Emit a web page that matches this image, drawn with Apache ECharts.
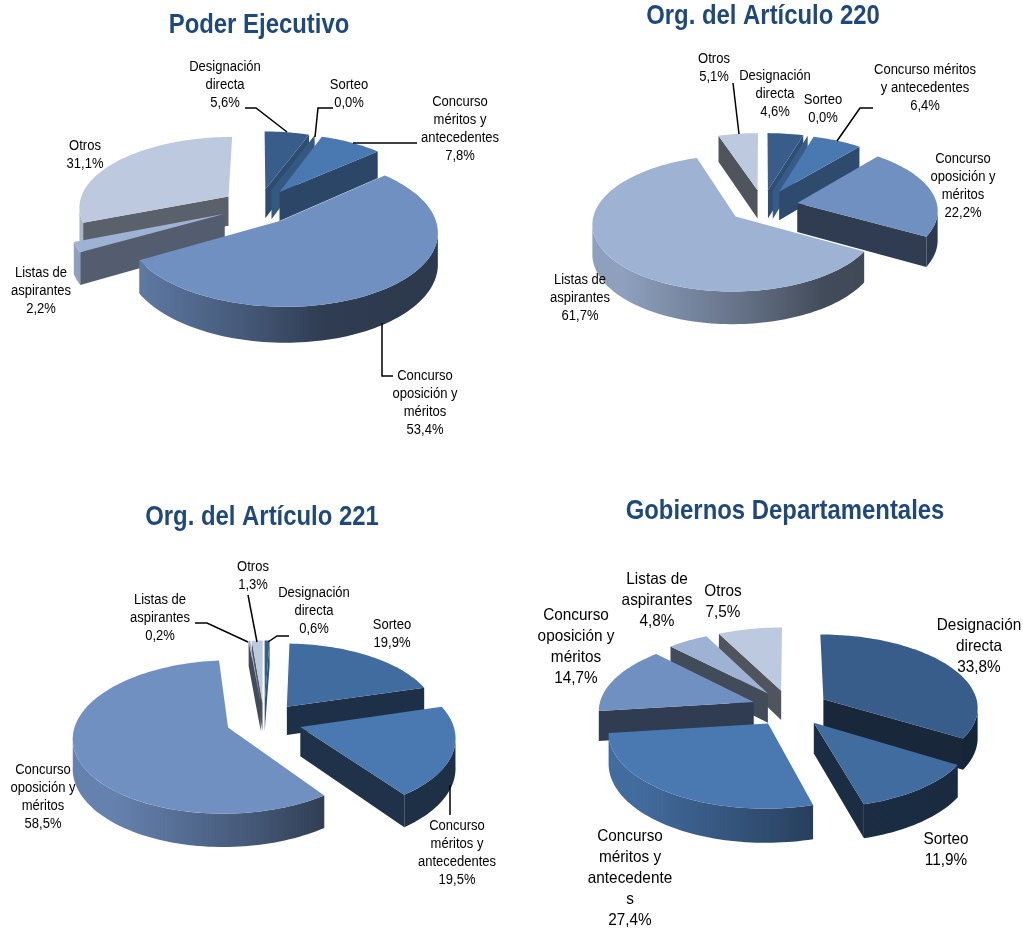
<!DOCTYPE html>
<html><head><meta charset="utf-8">
<style>html,body{margin:0;padding:0;background:#fff}#c{width:1023px;height:928px}</style>
<script src="https://cdn.jsdelivr.net/npm/echarts@6/dist/echarts.min.js"></script>
</head><body><div id="c"></div>
<script>
const categories = ['Designación directa','Sorteo','Concurso méritos y antecedentes','Concurso oposición y méritos','Listas de aspirantes','Otros'];
const poderEjecutivo = [5.6,0.0,7.8,53.4,2.2,31.1];
const articulo220 = [4.6,0.0,6.4,22.2,61.7,5.1];
const articulo221 = [0.6,19.9,19.5,58.5,0.2,1.3];
const gobiernosDep = [33.8,11.9,27.4,14.7,4.8,7.5];
const chartTitles = ['Poder Ejecutivo','Org. del Artículo 220','Org. del Artículo 221','Gobiernos Departamentales'];
const allValues = [poderEjecutivo,articulo220,articulo221,gobiernosDep];

// styles & layout
const palette = ['#385D8A','#416C9F','#4A78B0','#7090C2','#9EB2D3','#BCC9DE'];
const pieGeom = [
  {cx:259,cy:206,rx:150,ry:70,p:.137,d:30,e:.25},
  {cx:763,cy:206,rx:140,ry:65.5,p:.097,d:29,e:.25},
  {cx:264,cy:721,rx:152,ry:74,p:.12,d:29,e:.25},
  {cx:790,cy:708,rx:155,ry:73,p:.102,d:30,e:.25}
];
const titlePos = [[259,26],[763,17],[262,518],[785,512]];
const FONT = '"Liberation Sans",Arial,sans-serif';
const labelFont = [14,14,14,16.5];
const labelLH = [18,18,18,21];
// per-chart label: wrapped name lines, centre x, centre y
const labelLayout = [
 [[['Designación','directa'],225,85],[['Sorteo'],349,94],[['Concurso','méritos y','antecedentes'],460,129],[['Concurso','oposición y','méritos'],425,403],[['Listas de','aspirantes'],41,291],[['Otros'],85,155]],
 [[['Designación','directa'],775,94],[['Sorteo'],823,109],[['Concurso méritos','y antecedentes'],925,88],[['Concurso','oposición y','méritos'],963,186],[['Listas de','aspirantes'],580,298],[['Otros'],714,68]],
 [[['Designación','directa'],314,611],[['Sorteo'],392,634],[['Concurso','méritos y','antecedentes'],457,853],[['Concurso','oposición y','méritos'],43,797],[['Listas de','aspirantes'],160,618],[['Otros'],253,576]],
 [[['Designación','directa'],979,646],[['Sorteo'],946,850],[['Concurso','méritos y','antecedente','s'],630,878],[['Concurso','oposición y','méritos'],576,647],[['Listas de','aspirantes'],657,600],[['Otros'],723,602]]
];
const leaderLines = [
 [[245,108],[256,108],[287,132]],[[333,108],[318,108],[315,137]],[[417,143],[353,143]],[[393,376],[382,376],[382,323]],
 [[733,83],[739,134]],[[873,108],[860,108],[837,141]],
 [[195,623],[207,623],[248,642]],[[248,595],[257,642]],[[289,636],[277,636],[268,642]],[[450,785],[450,815]]
];

function shade(hex,f){
  const n=parseInt(hex.slice(1),16);
  const c=[(n>>16)&255,(n>>8)&255,n&255].map(x=>Math.round(x*f));
  return 'rgb('+c.join(',')+')';
}
function wallFactor(u){ return u>.8 ? .62+(u-.8)*1.4 : .42+Math.max(0,u-.2)*.35; }

function sliceGeometry(vals){
  const total=vals.reduce((a,b)=>a+b,0); let acc=0;
  return vals.map(v=>{const a0=acc/total*2*Math.PI; acc+=v; const a1=acc/total*2*Math.PI; return {a0,a1,mid:(a0+a1)/2};});
}
function makeRender(ci){
  const g=pieGeom[ci], vals=allValues[ci], slices=sliceGeometry(vals);
  const order=slices.map((s,i)=>[Math.cos(s.mid),i]).sort((a,b)=>b[0]-a[0]);
  const rank={}; order.forEach((o,k)=>rank[o[1]]=k);
  const P=(u,v,z)=>{const s=1/(1+g.p*v);return [g.cx+g.rx*u*s,g.cy-g.ry*v*s+z*s];};
  return function(params,api){
    const i=params.dataIndex, val=api.value(0), sl=slices[i];
    const ox=g.e*Math.sin(sl.mid), oy=g.e*Math.cos(sl.mid);
    const R=t=>[ox+Math.sin(t),oy+Math.cos(t)];
    const col=palette[i], base=rank[i]*10+10, kids=[];
    const wall=(t,nrm)=>{
      const nu=Math.sin(nrm), nv=Math.cos(nrm);
      if(nv>=0.0) return;
      const r=R(t);
      kids.push({type:'polygon',z2:base+1,shape:{points:[P(ox,oy,0),P(r[0],r[1],0),P(r[0],r[1],g.d),P(ox,oy,g.d)]},
        style:{fill:shade(col,wallFactor(nu))}});
    };
    wall(sl.a0,sl.a0-Math.PI/2);
    wall(sl.a1,sl.a1+Math.PI/2);
    // curved outer wall
    const front=Math.PI/2+Math.asin(g.p);
    const b0=Math.max(sl.a0,front), b1=Math.min(sl.a1,2*Math.PI-front);
    if(b1>b0){
      const top=[],bot=[],n=Math.ceil((b1-b0)/0.03);
      for(let k=0;k<=n;k++){const t=b0+(b1-b0)*k/n,r=R(t);top.push(P(r[0],r[1],0));bot.unshift(P(r[0],r[1],g.d));}
      kids.push({type:'polygon',z2:base+2,shape:{points:top.concat(bot)},style:{fill:{type:'linear',x:g.cx-g.rx,y:0,x2:g.cx+g.rx,y2:0,global:true,
        colorStops:[{offset:0,color:shade(col,.9)},{offset:.45,color:shade(col,.62)},{offset:.72,color:shade(col,.42)},{offset:1,color:shade(col,.4)}]}}});
    }
    // top face
    if(val>0){
      const pts=[P(ox,oy,0)],n=Math.max(2,Math.ceil((sl.a1-sl.a0)/0.03));
      for(let k=0;k<=n;k++){const t=sl.a0+(sl.a1-sl.a0)*k/n,r=R(t);pts.push(P(r[0],r[1],0));}
      kids.push({type:'polygon',z2:base+3,shape:{points:pts},style:{fill:col}});
    }
    return {type:'group',children:kids};
  };
}
const fmt=v=>v.toFixed(1).replace('.',',')+'%';
const graphics=[];
chartTitles.forEach((t,i)=>graphics.push({type:'text',x:titlePos[i][0],y:titlePos[i][1],scaleX:.885,z:50,
  style:{text:t,fontFamily:FONT,fontWeight:'bold',fontSize:27,fill:'#1F497D',align:'center',verticalAlign:'middle'}}));
labelLayout.forEach((lab,ci)=>lab.forEach((l,i)=>{
  graphics.push({type:'text',x:l[1],y:l[2],scaleX:.93,z:50,style:{text:l[0].concat(fmt(allValues[ci][i])).join('\n'),
    fontFamily:FONT,fontSize:labelFont[ci],lineHeight:labelLH[ci],
    fill:'#000',align:'center',verticalAlign:'middle'}});
}));
leaderLines.forEach(pts=>graphics.push({type:'polyline',z:49,shape:{points:pts},style:{stroke:'#000',lineWidth:1.5,fill:null}}));

const chart=echarts.init(document.getElementById('c'),null,{renderer:'canvas'});
chart.setOption({
  animation:false,backgroundColor:'#fff',
  series:allValues.map((vals,ci)=>({type:'custom',name:chartTitles[ci],coordinateSystem:'none',silent:true,clip:false,
    data:vals.map((v,i)=>({name:categories[i],value:[v]})),renderItem:makeRender(ci)})),
  graphic:graphics
});
</script></body></html>
